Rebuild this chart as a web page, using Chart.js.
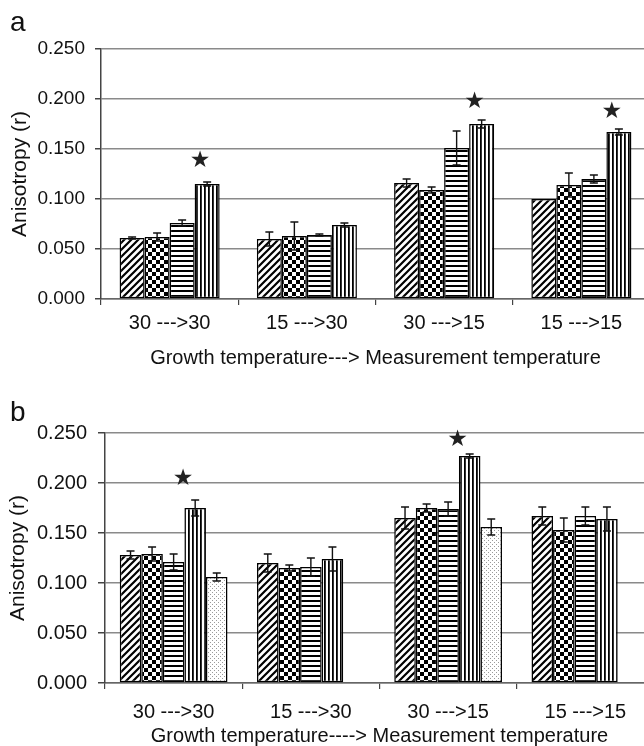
<!DOCTYPE html>
<html>
<head>
<meta charset="utf-8">
<script src="https://cdn.jsdelivr.net/npm/chart.js@4.4.1/dist/chart.umd.min.js"></script>
<style>
  html, body { margin: 0; padding: 0; background: #fff; overflow: hidden; width: 644px; height: 746px; }
  #wrap { position: relative; width: 644px; height: 746px; overflow: hidden; }
  .panel { position: absolute; left: 0; width: 700px; height: 380px; }
  #pa { top: 0; }
  #pb { top: 380px; }
  .tag { position: absolute; left: 10px; font: 28px "Liberation Sans", Arial, sans-serif; line-height: 28px; color: #111; }
</style>
</head>
<body>
<div id="wrap">
  <div class="panel" id="pa"><canvas id="ca" width="700" height="380"></canvas></div>
  <div class="panel" id="pb"><canvas id="cb" width="700" height="380"></canvas></div>
  <div class="tag" style="top:8px">a</div>
  <div class="tag" style="top:398px">b</div>
</div>
<script>
// Growth -> measurement temperature combinations
const categories = ['30 --->30', '15 --->30', '30 --->15', '15 --->15'];
const yTicks = [0, 0.05, 0.10, 0.15, 0.20, 0.25];

// Panel a: anisotropy (r), four probes
const aSeries1 = [0.061, 0.060, 0.116, 0.100];
const aSeries2 = [0.062, 0.063, 0.109, 0.114];
const aSeries3 = [0.076, 0.064, 0.151, 0.120];
const aSeries4 = [0.115, 0.074, 0.175, 0.167];
const aErr1 = [0.001, 0.007, 0.004, 0.000];
const aErr2 = [0.004, 0.014, 0.003, 0.012];
const aErr3 = [0.003, 0.001, 0.017, 0.004];
const aErr4 = [0.002, 0.002, 0.004, 0.003];
const aStars = [0.138, null, 0.197, 0.187];

// Panel b: anisotropy (r), five probes
const bSeries1 = [0.128, 0.120, 0.165, 0.167];
const bSeries2 = [0.129, 0.115, 0.175, 0.153];
const bSeries3 = [0.121, 0.116, 0.174, 0.167];
const bSeries4 = [0.175, 0.124, 0.227, 0.164];
const bSeries5 = [0.106, null, 0.156, null];
const bErr1 = [0.004, 0.009, 0.011, 0.009];
const bErr2 = [0.007, 0.003, 0.004, 0.012];
const bErr3 = [0.008, 0.009, 0.007, 0.009];
const bErr4 = [0.008, 0.012, 0.002, 0.012];
const bErr5 = [0.004, null, 0.008, null];
const bStars = [0.204, null, 0.243, null];

const FONT = '"Liberation Sans", Arial, sans-serif';

// Fill patterns for the bars
function makePattern(kind) {
  const c = document.createElement('canvas');
  const x = c.getContext('2d');
  if (kind === 'diag') {
    const s = 7;
    c.width = s; c.height = s;
    x.fillStyle = '#fff'; x.fillRect(0, 0, s, s);
    x.strokeStyle = '#000'; x.lineWidth = 2.2;
    x.beginPath();
    x.moveTo(-1, s + 1); x.lineTo(s + 1, -1);
    x.moveTo(-1, 1); x.lineTo(1, -1);
    x.moveTo(s - 1, s + 1); x.lineTo(s + 1, s - 1);
    x.stroke();
  } else if (kind === 'check') {
    c.width = 8; c.height = 8;
    x.fillStyle = '#fff'; x.fillRect(0, 0, 8, 8);
    x.fillStyle = '#000';
    x.fillRect(0, 0, 4, 4); x.fillRect(4, 4, 4, 4);
  } else if (kind === 'horiz') {
    c.width = 5; c.height = 5;
    x.fillStyle = '#fff'; x.fillRect(0, 0, 5, 5);
    x.fillStyle = '#000'; x.fillRect(0, 0, 5, 2);
  } else if (kind === 'vert') {
    c.width = 4; c.height = 4;
    x.fillStyle = '#fff'; x.fillRect(0, 0, 4, 4);
    x.fillStyle = '#000'; x.fillRect(0, 0, 1.8, 4);
  } else {
    c.width = 4; c.height = 4;
    x.fillStyle = '#fff'; x.fillRect(0, 0, 4, 4);
    x.fillStyle = '#9a9a9a';
    x.fillRect(0, 0, 1, 1); x.fillRect(2, 2, 1, 1);
  }
  return x.createPattern(c, 'repeat');
}

// Error bars and significance stars, placed through the chart's own scales
const decorations = {
  id: 'decorations',
  afterDatasetsDraw(chart, args, opts) {
    const ctx = chart.ctx;
    const ys = chart.scales.y;
    ctx.save();
    ctx.strokeStyle = '#111';
    ctx.lineWidth = 1.4;
    chart.data.datasets.forEach((ds, i) => {
      const meta = chart.getDatasetMeta(i);
      const errs = opts.errors[i];
      meta.data.forEach((bar, j) => {
        const v = ds.data[j], e = errs[j];
        if (v == null || !e) return;
        const t = ys.getPixelForValue(v + e), b = ys.getPixelForValue(v - e);
        const cx = bar.x, w = opts.cap;
        ctx.beginPath();
        ctx.moveTo(cx, t); ctx.lineTo(cx, b);
        ctx.moveTo(cx - w, t); ctx.lineTo(cx + w, t);
        ctx.moveTo(cx - w, b); ctx.lineTo(cx + w, b);
        ctx.stroke();
      });
    });
    const starMeta = chart.getDatasetMeta(opts.starSeries);
    ctx.fillStyle = '#222';
    ctx.font = '23px "DejaVu Sans"';
    ctx.textAlign = 'center';
    ctx.textBaseline = 'middle';
    opts.stars.forEach((s, j) => {
      if (s == null) return;
      const bar = starMeta.data[j];
      ctx.fillText('\u2605', bar.x + opts.starDx, ys.getPixelForValue(s));
    });
    ctx.restore();
  }
};

function buildChart(canvas, cfg) {
  const patterns = ['diag', 'check', 'horiz', 'vert', 'dots'];
  const datasets = cfg.series.map((d, i) => ({
    data: d,
    backgroundColor: makePattern(patterns[i]),
    borderColor: '#000',
    borderWidth: 1.5,
    borderSkipped: false,
    categoryPercentage: cfg.catPct,
    barPercentage: 1.0
  }));
  return new Chart(canvas, {
    type: 'bar',
    data: { labels: categories, datasets },
    plugins: [decorations],
    options: {
      responsive: false,
      animation: false,
      layout: { padding: { left: 0, top: cfg.top, right: cfg.right, bottom: 0 } },
      plugins: {
        legend: { display: false },
        tooltip: { enabled: false },
        decorations: { errors: cfg.errors, stars: cfg.stars, starSeries: 3, starDx: cfg.starDx, cap: 4 }
      },
      scales: {
        x: {
          grid: { display: true, drawOnChartArea: false, drawTicks: true, tickLength: 6, tickColor: '#444', lineWidth: 1.2 },
          border: { display: true, color: '#666', width: 1.5 },
          ticks: { color: '#111', font: { family: FONT, size: 20 }, padding: cfg.xPad, maxRotation: 0 },
          title: { display: true, text: cfg.xTitle, color: '#111', font: { family: FONT, size: 20 }, padding: { top: 0, bottom: cfg.xTitlePad } },
          afterFit(s) { s.height = cfg.xHeight; }
        },
        y: {
          min: 0, max: 0.25,
          afterBuildTicks(s) { s.ticks = yTicks.map(v => ({ value: v })); },
          grid: { color: '#8a8a8a', lineWidth: 1.5, tickLength: cfg.yTick, tickColor: '#444' },
          border: { display: true, color: '#444', width: 1.5 },
          ticks: { color: '#111', font: { family: FONT, size: cfg.yFont }, padding: cfg.yPad, callback: v => Number(v).toFixed(3) },
          title: { display: true, text: 'Anisotropy (r)', color: '#111', font: { family: FONT, size: 21 }, padding: { top: cfg.yTitlePad, bottom: 0 } },
          afterFit(s) { s.width = cfg.left; }
        }
      }
    }
  });
}

buildChart(document.getElementById('ca'), {
  series: [aSeries1, aSeries2, aSeries3, aSeries4],
  errors: [aErr1, aErr2, aErr3, aErr4],
  stars: aStars, starDx: -7,
  catPct: 0.729,
  top: 49, right: 50, left: 101,
  xHeight: 81, xPad: 6, xTitlePad: 10,
  xTitle: 'Growth temperature---> Measurement temperature',
  yTick: 6, yPad: 10, yFont: 19, yTitlePad: 8
});

buildChart(document.getElementById('cb'), {
  series: [bSeries1, bSeries2, bSeries3, bSeries4, bSeries5],
  errors: [bErr1, bErr2, bErr3, bErr4, bErr5],
  stars: bStars, starDx: -12,
  catPct: 0.785,
  top: 53, right: 46, left: 105,
  xHeight: 77, xPad: 11, xTitlePad: 12,
  xTitle: 'Growth temperature----> Measurement temperature',
  yTick: 7, yPad: 11, yFont: 20, yTitlePad: 6
});
</script>
</body>
</html>
